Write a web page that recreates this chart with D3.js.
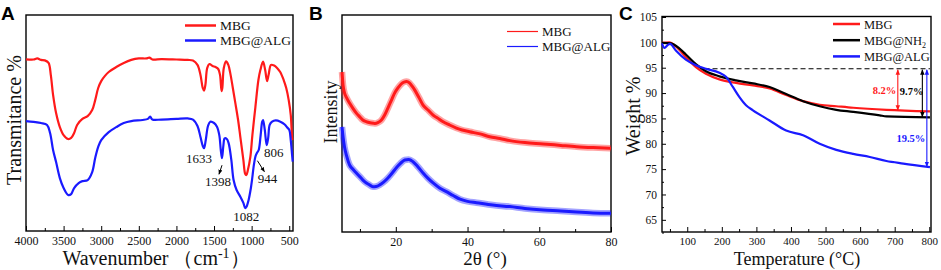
<!DOCTYPE html>
<html>
<head>
<meta charset="utf-8">
<script src="https://cdn.jsdelivr.net/npm/d3@7"></script>
<style>
  body { margin: 0; background: #fff; }
  svg { display: block; }
</style>
</head>
<body>
<div id="chart"></div>
<script>
// ---------- panel A : FTIR ----------
const ftirWave = [4000,3900,3850,3800,3750,3700,3670,3640,3600,3550,3500,3440,3400,3360,3320,3250,3180,3120,3080,3040,3000,2950,2900,2800,2700,2600,2500,2400,2360,2320,2200,2000,1850,1780,1720,1680,1650,1633,1615,1590,1560,1520,1480,1444,1420,1400,1390,1370,1340,1310,1284,1250,1217,1180,1150,1110,1085,1070,1050,1017,990,950,910,884,848,820,795,775,742,700,662,620,574,540,507,480,462,455];
const ftirMBG = [79.5,79.4,79.9,79.2,79.0,77.8,72.2,63.0,54.6,48.1,44.4,42.6,43.1,45.4,49.1,51.9,53.2,56.0,60.6,66.2,69.4,71.8,73.6,75.9,77.8,79.2,79.9,79.9,80.3,79.4,79.6,79.4,79.2,78.9,76.9,72.2,66.2,65.0,67.6,75.5,77.3,76.4,75.9,75.0,72.2,64.8,66.2,75.5,78.5,76.9,73.1,66.2,59.3,51.4,43.5,32.9,26.4,25.9,28.2,34.3,44.4,57.4,69.9,74.5,78.4,74.5,69.4,72.2,76.9,76.6,75.5,73.6,69.9,66.2,60.6,53.7,43.5,42.1];
const ftirWaveALG = [4000,3900,3800,3720,3680,3640,3600,3550,3500,3440,3400,3360,3300,3250,3180,3120,3080,3040,3000,2900,2800,2700,2600,2450,2380,2350,2320,2200,2000,1850,1780,1720,1680,1650,1633,1610,1580,1550,1500,1461,1430,1410,1394,1375,1359,1330,1306,1270,1240,1200,1150,1110,1085,1070,1040,1010,995,970,950,930,906,880,860,848,825,800,780,760,728,680,618,560,529,500,480,462,454];
const ftirALG = [50.9,50.5,50.0,49.1,45.4,37.5,31.9,24.5,19.9,16.7,17.1,19.9,22.2,23.1,23.6,27.3,33.8,38.9,42.1,45.8,48.1,50.0,50.9,51.4,51.9,53.0,51.6,51.6,51.9,52.1,51.6,48.6,43.5,39.4,38.3,42.1,48.6,50.6,50.0,48.3,44.4,37.5,33.7,39.8,42.9,42.6,40.7,32.9,23.6,19.0,15.9,13.0,10.6,11.1,14.4,19.9,23.6,30.6,34.4,36.1,37.5,44.4,50.5,51.4,46.8,39.8,43.1,49.1,50.6,51.2,50.6,49.3,48.0,46.8,42.1,35.2,32.1];
const ftirTicks = [4000,3500,3000,2500,2000,1500,1000,500];
const ftirPeaks = ["1633","1398","1082","944","806"];
const ftirPeakWave = [1633,1394,1082,944,806];

// ---------- panel B : XRD ----------
const xrdTheta = [5.0,5.3,5.7,6.3,7.1,8.0,9.0,10.0,10.8,12.0,13.2,14.2,15.0,16.0,16.9,17.8,18.8,19.7,20.6,21.5,22.3,23.0,23.8,24.5,25.3,26.5,27.6,29.0,30.4,32.0,33.2,35.0,36.9,38.5,40.6,43.5,46.2,49,51.8,56,61.1,66,70.4,75,80];
const xrdMBG = [73.7,67.7,64.1,61.8,59.4,57.1,54.8,53.0,51.6,50.7,50.2,50.0,50.4,51.6,53.9,57.1,60.8,64.1,66.4,68.2,69.1,69.3,68.7,67.3,65.4,61.8,58.5,56.2,53.9,52.1,50.8,49.3,47.9,47.0,46.2,45.2,43.9,43.1,42.1,41.2,40.6,39.9,39.3,38.9,38.6];
const xrdThetaALG = [5.0,5.3,5.7,6.3,7.1,8.0,9.0,10.2,11.3,12.5,13.6,14.5,15.5,16.6,17.8,19.0,20.1,21.3,22.5,23.6,24.8,26.2,27.6,29.0,30.4,32.2,34.1,36.0,37.9,40.0,42.5,47,51.8,56,61.1,66,70.4,75,80];
const xrdALG = [48.4,43.8,39.2,35.0,30.9,29.0,27.2,25.1,23.2,21.9,20.9,21.0,21.7,23.0,24.9,27.2,29.5,31.6,33.2,33.4,32.4,30.0,27.2,24.7,22.6,20.3,18.6,16.8,15.1,14.1,13.5,12.4,11.7,10.8,10.1,9.7,9.2,8.8,8.6];
const xrdTicks = [20,40,60,80];

// ---------- panel C : TGA ----------
const tgaTemp = [27,48,67,96,125,154,193,241,290,338,386,435,483,531,580,676,802];
const tgaMBG = [99.9,100,99.2,97.1,95.1,93.8,92.7,92.0,91.5,90.9,89.6,88.4,87.7,87.4,87.1,86.7,86.4];
const tgaTempNH2 = [27,53,77,96,125,154,193,241,290,338,386,435,483,531,580,657,676,802];
const tgaNH2 = [99.9,99.8,98.8,97.6,95.7,94.3,93.3,92.5,91.9,91.2,89.8,88.4,87.4,86.7,86.3,85.6,85.4,85.2];
const tgaTempALG = [27,34,44,50,67,96,125,154,193,212,232,251,270,290,338,386,435,483,531,580,628,676,725,802];
const tgaALG = [99.8,98.9,99.5,99.7,98.4,96.6,95.5,94.8,94.0,93.2,91.2,89.2,87.6,86.6,84.6,82.6,81.7,80.0,78.8,78.0,77.4,76.6,76.1,75.4];
const tgaTicksY = [65,70,75,80,85,90,95,100,105];
const tgaTicksX = [100,200,300,400,500,600,700,800];
const lossLabels = ["8.2%","9.7%","19.5%"];
const lossTemp = [709,780,793];
const lossEnd = [86.6,85.3,75.5];
const lossStart = 94.8;

const RED = "#ff1a1a", BLUE = "#1a1aff";
const SERIF = "'Liberation Serif', 'Times New Roman', 'DejaVu Serif', serif";
const SANS = "'Liberation Sans', Arial, sans-serif";

const svg = d3.select("#chart").append("svg")
  .attr("width", 941).attr("height", 270)
  .attr("font-family", SERIF);

const defs = svg.append("defs");
["red","black","blue"].forEach((c, i) => {
  defs.append("marker")
    .attr("id", "arr-" + c)
    .attr("viewBox", "0 0 10 10")
    .attr("refX", 9).attr("refY", 5)
    .attr("markerWidth", 5).attr("markerHeight", 5)
    .attr("orient", "auto-start-reverse")
    .append("path")
    .attr("d", "M0,1 L10,5 L0,9 Z")
    .attr("fill", [RED, "#000", BLUE][i]);
});

// draws the frame, ticks pointing inward
function frame(x, top, bottom, left, right, xTicks, xMinor, fs) {
  const g = svg.append("g");
  const ax = d3.axisBottom(x).tickValues(xTicks).tickSizeInner(-5).tickSizeOuter(0).tickPadding(5)
    .tickFormat(d3.format("d"));
  g.append("g").attr("transform", `translate(0,${bottom})`).call(ax)
    .attr("font-family", SERIF)
    .call(s => s.select(".domain").remove())
    .call(s => s.selectAll("text").attr("font-size", fs + "px").attr("fill", "#111"));
  g.append("g").attr("transform", `translate(0,${bottom})`)
    .call(d3.axisBottom(x).tickValues(xMinor).tickSizeInner(-3).tickSizeOuter(0).tickFormat(""))
    .call(s => s.select(".domain").remove())
    .call(s => s.selectAll("text").remove());
  g.append("rect")
    .attr("x", left).attr("y", top)
    .attr("width", right - left).attr("height", bottom - top)
    .attr("fill", "none").attr("stroke", "#000").attr("stroke-width", 1.4);
  return g;
}

function legend(x0, y0, gap, items, w, fs) {
  items.forEach((it, i) => {
    svg.append("line")
      .attr("x1", x0).attr("x2", x0 + (it.len || 31))
      .attr("y1", y0 + i * gap).attr("y2", y0 + i * gap)
      .attr("stroke", it.color).attr("stroke-width", w);
    const t = svg.append("text")
      .attr("x", x0 + (it.len || 31) + 4).attr("y", y0 + i * gap + 4.5)
      .attr("font-size", fs + "px").attr("fill", "#111");
    t.append("tspan").text(it.name);
    if (it.sub) t.append("tspan").attr("font-size", "8px").attr("dy", 3).text(it.sub);
  });
}

const line = (x, y) => d3.line().x(d => x(d[0])).y(d => y(d[1])).curve(d3.curveMonotoneX);

function tag(x, s) {
  svg.append("text").attr("x", x).attr("y", 20)
    .attr("font-family", SANS).attr("font-weight", "bold").attr("font-size", "19px")
    .text(s);
}

// ================= A =================
{
  const L = 26, R = 293, T = 15, B = 231;
  const x = d3.scaleLinear().domain([4000, 450]).range([L, R]);
  const y = d3.scaleLinear().domain([0, 100]).range([B, T]);
  frame(x, T, B, L, R, ftirTicks, d3.range(3750, 449, -500), 12);

  const lx = d3.line().x(d => x(d[0])).y(d => y(d[1])).curve(d3.curveCatmullRom.alpha(0.5));
  svg.append("path").datum(d3.zip(ftirWave, ftirMBG)).attr("d", lx)
    .attr("fill", "none").attr("stroke", RED).attr("stroke-width", 2.2);
  svg.append("path").datum(d3.zip(ftirWaveALG, ftirALG)).attr("d", lx)
    .attr("fill", "none").attr("stroke", BLUE).attr("stroke-width", 2.2);

  // peak labels, offset from the blue minimum
  const alg = d3.zip(ftirWaveALG, ftirALG);
  const at = w => alg.reduce((a, b) => Math.abs(b[0] - w) < Math.abs(a[0] - w) ? b : a);
  const off = [[-5, 15], [-4, 28], [1, 13], [12, 26], [7, 12]];
  ftirPeaks.forEach((lab, i) => {
    const p = at(ftirPeakWave[i]);
    svg.append("text")
      .attr("x", x(p[0]) + off[i][0]).attr("y", y(p[1]) + off[i][1])
      .attr("text-anchor", "middle").attr("font-size", "13px").attr("fill", "#111")
      .text(lab);
  });
  // small arrows for 1398 and 944
  [[1394, 0, 7, -3, 16], [944, 2, 4, 9, 15]].forEach(a => {
    const p = at(a[0]);
    svg.append("line")
      .attr("x1", x(p[0]) + a[1]).attr("y1", y(p[1]) + a[2])
      .attr("x2", x(p[0]) + a[3]).attr("y2", y(p[1]) + a[4])
      .attr("stroke", "#000").attr("stroke-width", 1)
      .attr("marker-end", "url(#arr-black)");
  });

  legend(185, 25.5, 15, [{name: "MBG", color: RED}, {name: "MBG@ALG", color: BLUE}], 2.5, 13.5);

  svg.append("text").attr("x", 156).attr("y", 265).attr("text-anchor", "middle")
    .attr("font-size", "20px").attr("fill", "#111")
    .call(t => {
      t.append("tspan").text("Wavenumber （cm");
      t.append("tspan").attr("dy", -7).attr("font-size", "14px").text("-1");
      t.append("tspan").attr("dy", 7).text("）");
    });
  svg.append("text").attr("transform", "translate(21,120) rotate(-90)")
    .attr("text-anchor", "middle").attr("font-size", "20px").attr("fill", "#111")
    .text("Transmitance %");
  tag(1, "A");
}

// ================= B =================
{
  const L = 342, R = 611, T = 15, B = 232;
  const x = d3.scaleLinear().domain([5, 80]).range([L, R]);
  const y = d3.scaleLinear().domain([0, 100]).range([B, T]);
  frame(x, T, B, L, R, xrdTicks, [10, 30, 50, 70], 12);

  // noisy pattern shown as a fuzzy band around the trace
  [[xrdTheta, xrdMBG, RED], [xrdThetaALG, xrdALG, BLUE]].forEach(s => {
    const d = d3.zip(s[0], s[1]);
    svg.append("path").datum(d).attr("d", line(x, y))
      .attr("fill", "none").attr("stroke", s[2]).attr("stroke-width", 6.5).attr("stroke-opacity", 0.4);
    svg.append("path").datum(d).attr("d", line(x, y))
      .attr("fill", "none").attr("stroke", s[2]).attr("stroke-width", 3);
  });

  legend(507, 31.5, 15, [{name: "MBG", color: RED}, {name: "MBG@ALG", color: BLUE}], 1.2, 13);

  svg.append("text").attr("x", 485).attr("y", 265).attr("text-anchor", "middle")
    .attr("font-size", "19px").attr("fill", "#111").text("2θ (°)");
  svg.append("text").attr("transform", "translate(337,112) rotate(-90)")
    .attr("text-anchor", "middle").attr("font-size", "18px").attr("fill", "#111")
    .text("Intensity");
  tag(309, "B");
}

// ================= C =================
{
  const L = 662, R = 931, T = 16.5, B = 232;
  const x = d3.scaleLinear().domain([27, 805]).range([L, R]);
  const y = d3.scaleLinear().domain([62.6, 105.1]).range([B, T]);
  frame(x, T, B, L, R, tgaTicksX, d3.range(50, 801, 100), 11);

  const g = svg.append("g").attr("transform", `translate(${L},0)`);
  g.call(d3.axisLeft(y).tickValues(tgaTicksY).tickSizeInner(-4).tickSizeOuter(0).tickPadding(5))
    .attr("font-family", SERIF)
    .call(s => s.select(".domain").remove())
    .call(s => s.selectAll("text").attr("font-size", "11.5px").attr("fill", "#111"));
  g.append("g").call(d3.axisLeft(y).tickValues(d3.range(62.5, 105, 2.5).filter(v => v % 5 !== 0))
      .tickSizeInner(-2).tickSizeOuter(0).tickFormat(""))
    .call(s => s.select(".domain").remove())
    .call(s => s.selectAll("text").remove());

  // dashed reference at the start-of-loss level
  svg.append("line")
    .attr("x1", x(150)).attr("x2", x(802))
    .attr("y1", y(lossStart)).attr("y2", y(lossStart))
    .attr("stroke", "#000").attr("stroke-width", 1.1).attr("stroke-dasharray", "5,3");

  [[tgaTemp, tgaMBG, RED], [tgaTempNH2, tgaNH2, "#000"], [tgaTempALG, tgaALG, BLUE]].forEach(s => {
    svg.append("path").datum(d3.zip(s[0], s[1])).attr("d", line(x, y))
      .attr("fill", "none").attr("stroke", s[2]).attr("stroke-width", 2.2);
  });

  const cols = [RED, "#000", BLUE], ids = ["red", "black", "blue"];
  lossTemp.forEach((t, i) => {
    svg.append("line")
      .attr("x1", x(t)).attr("x2", x(t))
      .attr("y1", y(lossEnd[i])).attr("y2", y(lossStart) + 1)
      .attr("stroke", cols[i]).attr("stroke-width", 1.1)
      .attr("marker-start", "url(#arr-" + ids[i] + ")")
      .attr("marker-end", "url(#arr-" + ids[i] + ")");
  });
  const labPos = [[x(lossTemp[0]) - 1.5, 90.6, "end"], [x(lossTemp[0]) + 2, 90.4, "start"], [x(lossTemp[2]) - 1.5, 81.1, "end"]];
  lossLabels.forEach((s, i) => {
    svg.append("text")
      .attr("x", labPos[i][0]).attr("y", y(labPos[i][1]) + 4)
      .attr("text-anchor", labPos[i][2])
      .attr("font-size", "10.5px").attr("font-weight", "bold").attr("fill", cols[i])
      .text(s);
  });

  legend(833, 24, 16.2, [
    {name: "MBG", color: RED, len: 27},
    {name: "MBG@NH", sub: "2", color: "#000", len: 27},
    {name: "MBG@ALG", color: BLUE, len: 27}], 2.5, 12.5);

  svg.append("text").attr("x", 797).attr("y", 265).attr("text-anchor", "middle")
    .attr("font-size", "18px").attr("fill", "#111").text("Temperature (°C)");
  svg.append("text").attr("transform", "translate(640,116) rotate(-90)")
    .attr("text-anchor", "middle").attr("font-size", "20px").attr("fill", "#111")
    .text("Weight %");
  tag(619, "C");
}
</script>
</body>
</html>
